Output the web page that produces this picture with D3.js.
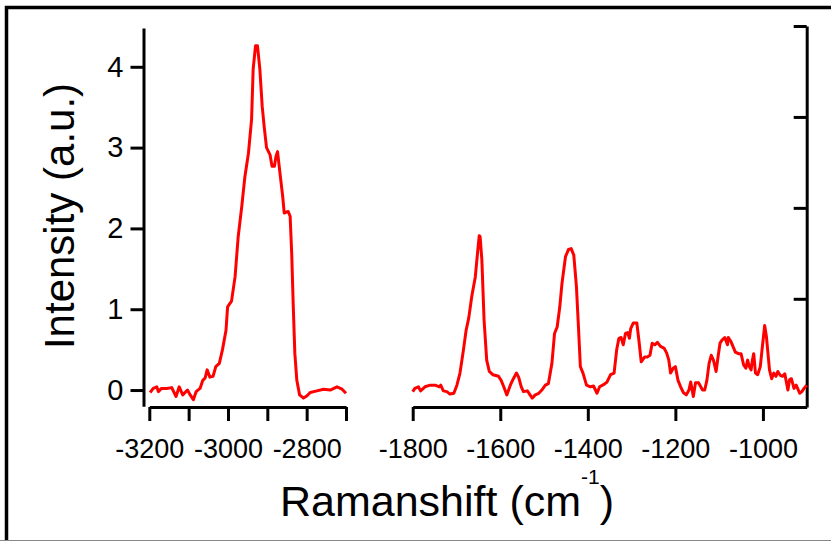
<!DOCTYPE html>
<html>
<head>
<meta charset="utf-8">
<script src="https://d3js.org/d3.v7.min.js"></script>
<style>
  body { margin: 0; background: #fff; }
  svg text { font-family: "Liberation Sans", Arial, Helvetica, sans-serif; fill: #000; }
</style>
</head>
<body>
<svg id="chart" width="831" height="541"></svg>
<script>
// C-H stretch region
const leftShift = [-3198, -3190, -3181, -3177, -3169, -3156, -3143, -3132, -3124, -3115, -3103, -3096,
  -3088, -3081, -3071, -3064, -3058, -3053, -3046, -3038, -3031, -3022, -3014, -3005, -3001, -2991,
  -2982, -2974, -2965, -2957, -2948, -2940, -2936, -2930, -2925, -2919, -2913, -2908, -2902, -2893,
  -2888, -2882, -2878, -2874, -2868, -2861, -2857, -2847, -2842, -2838, -2834, -2830, -2825, -2818,
  -2808, -2799, -2791, -2774, -2757, -2740, -2723, -2710, -2700];
const leftIntensity = [-0.03, 0.02, 0.04, -0.02, 0.02, 0.02, 0.03, -0.08, 0.04, -0.06, 0.0, -0.06,
  -0.12, -0.02, 0.02, 0.12, 0.15, 0.25, 0.16, 0.17, 0.29, 0.33, 0.5, 0.74, 1.03, 1.1,
  1.4, 1.9, 2.27, 2.64, 2.93, 3.35, 3.97, 4.26, 4.26, 3.97, 3.51, 3.26, 3.0, 2.91,
  2.77, 2.77, 2.89, 2.95, 2.69, 2.4, 2.19, 2.21, 2.15, 1.69, 1.03, 0.45, 0.12, -0.06,
  -0.1, -0.07, -0.03, -0.01, 0.01, 0.0, 0.04, 0.01, -0.04];

// fingerprint region
const rightShift = [-1800, -1795, -1787, -1782, -1772, -1760, -1749, -1739, -1736, -1730, -1722, -1715,
  -1706, -1699, -1692, -1684, -1678, -1672, -1665, -1657, -1652, -1648, -1646, -1642, -1637, -1631,
  -1625, -1617, -1604, -1598, -1592, -1585, -1577, -1570, -1563, -1558, -1552, -1547, -1538, -1527,
  -1520, -1512, -1505, -1497, -1490, -1482, -1476, -1470, -1464, -1459, -1451, -1444, -1438, -1432,
  -1426, -1421, -1417, -1411, -1403, -1394, -1387, -1379, -1373, -1363, -1356, -1348, -1340, -1334,
  -1329, -1324, -1319, -1314, -1309, -1305, -1302, -1296, -1288, -1283, -1278, -1270, -1264, -1258,
  -1253, -1247, -1241, -1234, -1226, -1220, -1215, -1211, -1205, -1200, -1194, -1188, -1182, -1175,
  -1169, -1165, -1159, -1154, -1147, -1138, -1133, -1128, -1123, -1118, -1113, -1107, -1102, -1098,
  -1093, -1087, -1081, -1079, -1073, -1063, -1056, -1050, -1044, -1039, -1035, -1031, -1027, -1024,
  -1021, -1017, -1012, -1006, -1002, -996, -992, -985, -980, -975, -970, -966, -960, -955, -950,
  -943, -939, -935, -929, -924, -916, -911, -906, -900];
const rightIntensity = [-0.02, 0.02, 0.04, -0.01, 0.04, 0.06, 0.06, 0.04, 0.06, -0.01, -0.02, -0.05,
  -0.04, 0.06, 0.21, 0.5, 0.74, 0.89, 1.16, 1.4, 1.69, 1.91, 1.9, 1.61, 0.87, 0.37,
  0.23, 0.19, 0.17, 0.12, 0.04, -0.06, 0.06, 0.14, 0.21, 0.16, 0.04, -0.02, -0.01, -0.1,
  -0.06, -0.04, 0.0, 0.06, 0.08, 0.33, 0.7, 0.78, 1.03, 1.32, 1.65, 1.74, 1.75, 1.67,
  1.28, 0.74, 0.29, 0.21, 0.06, 0.04, 0.05, -0.04, 0.04, 0.07, 0.1, 0.19, 0.21, 0.5,
  0.64, 0.65, 0.56, 0.7, 0.71, 0.64, 0.76, 0.83, 0.83, 0.6, 0.35, 0.41, 0.41, 0.43,
  0.58, 0.56, 0.59, 0.54, 0.52, 0.46, 0.37, 0.21, 0.27, 0.29, 0.12, 0.04, -0.03, -0.06,
  0.0, 0.1, -0.08, 0.09, 0.09, 0.0, 0.0, 0.12, 0.33, 0.43, 0.37, 0.23, 0.43, 0.58,
  0.62, 0.65, 0.56, 0.65, 0.6, 0.47, 0.45, 0.45, 0.31, 0.27, 0.37, 0.29, 0.25, 0.37,
  0.45, 0.21, 0.19, 0.29, 0.5, 0.8, 0.66, 0.25, 0.14, 0.21, 0.17, 0.23, 0.18, 0.17, 0.2,
  0.0, 0.13, 0.14, 0.02, 0.06, -0.04, -0.02, 0.02, 0.06];

const leftTicks = [-3200, -3100, -3000, -2900, -2800, -2700];
const leftLabels = [-3200, -3000, -2800];
const rightTicks = [-1800, -1600, -1400, -1200, -1000];
const yTicks = [0, 1, 2, 3, 4];
const mirrorTicks = [0, 1, 2, 3];

const svg = d3.select('#chart');
const axisY = 407;

// scales
const xLeft = d3.scaleLinear().domain([-3200, -2700]).range([149.3, 346]);
const xRight = d3.scaleLinear().domain([-1800, -900]).range([412.7, 806.7]);
const y = d3.scaleLinear().domain([-0.2, 4.48]).range([406.2, 28]);
// unlabeled mirror axis on the right
const yMirror = d3.scaleLinear().domain([-1.19, 3]).range([407, 26]);

// outer frame (right and bottom sides fall outside the picture)
svg.append('rect')
  .attr('x', 6.5).attr('y', 7.5)
  .attr('width', 900).attr('height', 600)
  .attr('fill', 'none').attr('stroke', '#000').attr('stroke-width', 3.5);
svg.append('line')
  .attr('x1', 0).attr('x2', 831).attr('y1', 540.5).attr('y2', 540.5)
  .attr('stroke', '#888').attr('stroke-width', 1);

function styleAxis(g, fontSize) {
  g.selectAll('path.domain').attr('stroke-width', 3).attr('stroke', '#000');
  g.selectAll('.tick line').attr('stroke-width', 3).attr('stroke', '#000');
  g.selectAll('.tick text').attr('font-size', fontSize)
    .attr('font-family', '"Liberation Sans", Arial, sans-serif');
}

// bottom axes
const gxl = svg.append('g').attr('transform', `translate(0,${axisY})`)
  .call(d3.axisBottom(xLeft).tickValues(leftTicks).tickSizeInner(14).tickSizeOuter(0).tickPadding(18)
    .tickFormat(d => leftLabels.includes(d) ? d : ''));
styleAxis(gxl, 27);

const gxr = svg.append('g').attr('transform', `translate(0,${axisY})`)
  .call(d3.axisBottom(xRight).tickValues(rightTicks).tickSizeInner(14).tickSizeOuter(0).tickPadding(18)
    .tickFormat(d => d));
styleAxis(gxr, 27);

// left axis
const gy = svg.append('g').attr('transform', 'translate(143.5,0)')
  .call(d3.axisLeft(y).tickValues(yTicks).tickSizeInner(13).tickSizeOuter(0).tickPadding(7)
    .tickFormat(d3.format('d')));
styleAxis(gy, 29);

// right axis, ticks pointing inward
const gm = svg.append('g').attr('transform', 'translate(806.7,0)')
  .call(d3.axisLeft(yMirror).tickValues(mirrorTicks).tickSizeInner(13).tickSizeOuter(0).tickFormat(''));
styleAxis(gm, 0);

// spectra
const lineL = d3.line().x((d, i) => xLeft(leftShift[i])).y(d => y(d)).curve(d3.curveLinear);
const lineR = d3.line().x((d, i) => xRight(rightShift[i])).y(d => y(d)).curve(d3.curveLinear);

svg.append('path').attr('d', lineL(leftIntensity))
  .attr('fill', 'none').attr('stroke', '#ff0000').attr('stroke-width', 3).attr('stroke-linejoin', 'round');
svg.append('path').attr('d', lineR(rightIntensity))
  .attr('fill', 'none').attr('stroke', '#ff0000').attr('stroke-width', 3).attr('stroke-linejoin', 'round');

// titles
svg.append('text')
  .attr('transform', 'translate(74,216) rotate(-90)')
  .attr('text-anchor', 'middle')
  .attr('font-size', 42)
  .text('Intensity (a.u.)');

const xt = svg.append('text')
  .attr('x', 447).attr('y', 516)
  .attr('text-anchor', 'middle')
  .attr('font-size', 43);
xt.append('tspan').text('Ramanshift (cm');
xt.append('tspan').attr('dy', -32).attr('font-size', 21).text('-1');
xt.append('tspan').attr('dy', 32).text(')');
</script>
</body>
</html>
